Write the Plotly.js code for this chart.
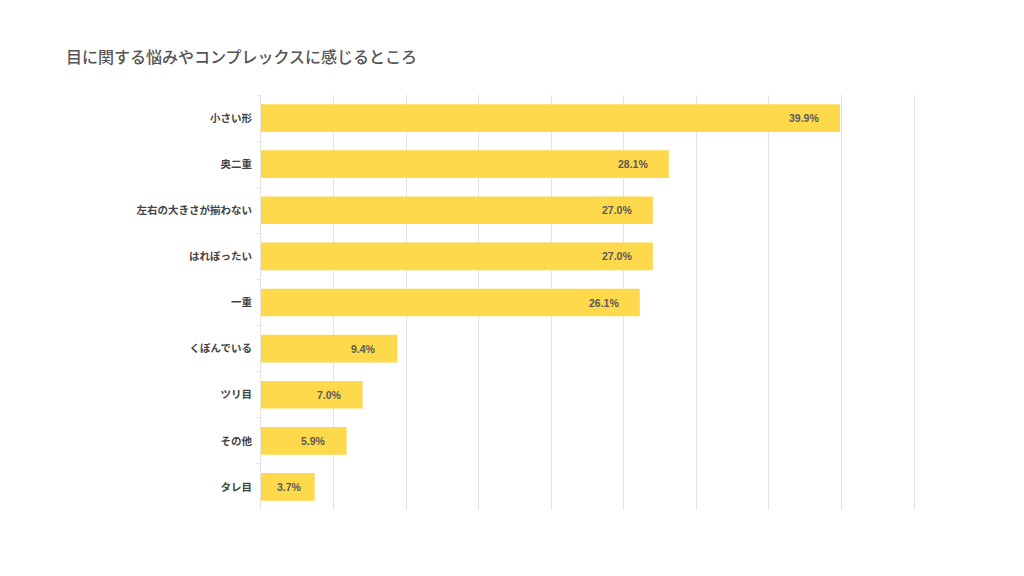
<!DOCTYPE html>
<html>
<head>
<meta charset="utf-8">
<script src="https://cdn.plot.ly/plotly-3.0.1.min.js"></script>
<style>html,body{margin:0;padding:0;background:#fff;}#chart{width:1024px;height:576px;}</style>
</head>
<body>
<div id="chart"></div>
<script>
const categories = ["小さい形","奥二重","左右の大きさが揃わない","はれぼったい","一重","くぼんでいる","ツリ目","その他","タレ目"];
const values = [39.9, 28.1, 27.0, 27.0, 26.1, 9.4, 7.0, 5.9, 3.7];
const valueLabels = ["39.9%","28.1%","27.0%","27.0%","26.1%","9.4%","7.0%","5.9%","3.7%"];
const titleText = "目に関する悩みやコンプレックスに感じるところ";

const FONT = "'Liberation Sans', 'Noto Sans CJK JP', sans-serif";

const trace = {
  type: "bar",
  orientation: "h",
  x: values,
  y: categories,
  marker: {color: "#FDD94B"},
  hoverinfo: "none"
};

const annotations = values.map((v, i) => ({
  x: v, y: categories[i], xref: "x", yref: "y",
  text: "<b>" + valueLabels[i] + "</b>",
  showarrow: false, xanchor: "right", xshift: v < 5 ? -11 : -19,
  font: {family: FONT, size: 10.5, color: "#5a5a5a"}
}));

const layout = {
  width: 1024, height: 576,
  margin: {l: 261, r: 107, t: 95, b: 66},
  paper_bgcolor: "#fff", plot_bgcolor: "#fff",
  title: {text: titleText, x: 66/1024, xanchor: "left", xref: "container",
          y: 1 - 57/576, yref: "container", yanchor: "middle",
          font: {family: FONT, size: 16, color: "#555", weight: 500}},
  bargap: 0.4,
  showlegend: false,
  xaxis: {range: [0, 45.2], tick0: 0, dtick: 5, showticklabels: false, showgrid: true, gridcolor: "#e3e3e3", gridwidth: 1,
          zeroline: false, showline: false, fixedrange: true},
  yaxis: {autorange: "reversed", type: "category", showline: true, linecolor: "#e3e3e3", linewidth: 1,
          ticks: "outside", tickson: "boundaries", ticklen: 3, tickcolor: "#e3e3e3",
          ticklabelstandoff: 6, showgrid: false,
          tickfont: {family: FONT, size: 10.5, color: "#444", weight: "bold"}},
  annotations: annotations
};

Plotly.newPlot("chart", [trace], layout, {displayModeBar: false, staticPlot: true});
</script>
</body>
</html>
